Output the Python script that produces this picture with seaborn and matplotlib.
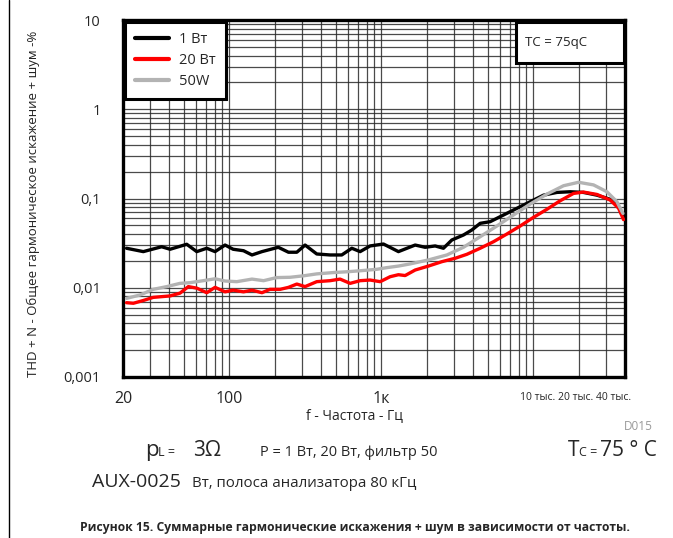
import numpy as np
import pandas as pd
import matplotlib
matplotlib.use("Agg")
import matplotlib.pyplot as plt
import matplotlib.ticker as mticker
from matplotlib.patches import Rectangle
import seaborn as sns

# ---------------- data ----------------
f_1w = [21.1, 27.2, 35.9, 40.8, 52.5, 61.1, 71.1, 80.6, 93.8, 106, 124, 141, 164, 210,
        245, 278, 315, 376, 460, 549, 639, 725, 843, 1032, 1172, 1295, 1668, 1940, 2258,
        2560, 2908, 3466, 3938, 4464, 5194, 6354, 7782, 9522, 11648, 14270, 17456, 21340,
        26160, 31980, 36280, 39120]
thd_1w = [0.0277, 0.0254, 0.0288, 0.0270, 0.0307, 0.0254, 0.0277, 0.0254, 0.0301, 0.0270,
          0.0260, 0.0233, 0.0254, 0.0284, 0.0250, 0.0250, 0.0301, 0.0239, 0.0233, 0.0233,
          0.0277, 0.0254, 0.0294, 0.0309, 0.0277, 0.0254, 0.0301, 0.0284, 0.0294, 0.0277,
          0.0343, 0.0390, 0.0444, 0.0527, 0.0550, 0.0653, 0.0776, 0.0920, 0.109, 0.117,
          0.119, 0.117, 0.109, 0.098, 0.081, 0.063]

f_20w = [21.1, 23.4, 27.2, 31.6, 40.8, 47.4, 53.8, 61.1, 71.1, 80.6, 93.8, 106, 124, 141,
         164, 185, 216, 245, 278, 315, 376, 460, 535, 623, 725, 843, 982, 1142, 1295, 1433,
         1668, 2040, 2500, 3058, 3650, 4464, 5462, 6688, 8182, 10010, 12264, 14998, 18350,
         21340, 26160, 31980, 36280, 39120]
thd_20w = [0.0068, 0.0067, 0.0072, 0.0078, 0.0081, 0.0087, 0.0103, 0.0099, 0.0088, 0.0101,
           0.0090, 0.0094, 0.0090, 0.0094, 0.0088, 0.0096, 0.0096, 0.0101, 0.0110, 0.0103,
           0.0117, 0.0120, 0.0125, 0.0112, 0.0120, 0.0122, 0.0117, 0.0133, 0.0140, 0.0137,
           0.0158, 0.0175, 0.0196, 0.0214, 0.0237, 0.0277, 0.0328, 0.0400, 0.0492, 0.0615,
           0.0757, 0.0944, 0.114, 0.118, 0.111, 0.096, 0.078, 0.058]

f_50w = [21.1, 25.9, 31.6, 38.8, 47.4, 55.2, 67.5, 80.6, 93.8, 112, 141, 168, 205, 251,
         307, 376, 484, 593, 725, 934, 1086, 1295, 1546, 2040, 2696, 3466, 4464, 5750,
         7392, 9522, 12264, 15768, 19790, 24840, 30420, 35400, 38780]
thd_50w = [0.0076, 0.0083, 0.0096, 0.0103, 0.0112, 0.0114, 0.0120, 0.0126, 0.0119, 0.0117,
           0.0125, 0.0120, 0.0130, 0.0131, 0.0136, 0.0143, 0.0148, 0.0151, 0.0155, 0.0161,
           0.0168, 0.0175, 0.0185, 0.0205, 0.0233, 0.0284, 0.0373, 0.0492, 0.0653, 0.0867,
           0.112, 0.139, 0.152, 0.142, 0.119, 0.092, 0.068]

series_labels = ["1 Вт", "20 Вт", "50W"]
series_colors = ["#000000", "#ff0000", "#b3b3b3"]

x_ticks = [20, 100, 1000]
x_tick_labels = ["20", "100", "1к"]
y_ticks = [0.001, 0.01, 0.1, 1, 10]
y_tick_labels = ["0,001", "0,01", "0,1", "1", "10"]

# ---------------- figure ----------------
sns.set_style("white")
plt.rcParams["font.family"] = ["Open Sans", "DejaVu Sans"]

W, H = 673, 538
fig = plt.figure(figsize=(W / 100, H / 100), dpi=100)
ax = fig.add_axes([123 / W, 1 - 377 / H, (625 - 123) / W, (377 - 20) / H])

frames = []
for f, t, lab in zip([f_1w, f_20w, f_50w], [thd_1w, thd_20w, thd_50w], series_labels):
    frames.append(pd.DataFrame({"freq": f, "thd": t, "series": lab}))
df = pd.concat(frames, ignore_index=True)

for lab, col in zip(series_labels, series_colors):
    sub = df[df["series"] == lab]
    sns.lineplot(data=sub, x="freq", y="thd", color=col, lw=2.4, ax=ax,
                 sort=False, estimator=None, label=lab, zorder=4)

ax.set_xscale("log")
ax.set_yscale("log")
ax.set_xlim(20, 40000)
ax.set_ylim(0.001, 10)

ax.xaxis.set_major_locator(mticker.FixedLocator(x_ticks))
ax.xaxis.set_major_formatter(mticker.FixedFormatter(x_tick_labels))
ax.yaxis.set_major_locator(mticker.FixedLocator(y_ticks))
ax.yaxis.set_major_formatter(mticker.FixedFormatter(y_tick_labels))
ax.xaxis.set_minor_locator(mticker.LogLocator(base=10, subs=np.arange(1, 10), numticks=50))
ax.yaxis.set_minor_locator(mticker.LogLocator(base=10, subs=np.arange(1, 10), numticks=50))
ax.xaxis.set_minor_formatter(mticker.NullFormatter())
ax.yaxis.set_minor_formatter(mticker.NullFormatter())

ax.grid(True, which="both", color="#2a2a2a", lw=0.9, alpha=0.85)
ax.set_axisbelow(True)
ax.tick_params(which="both", length=0)
ax.tick_params(axis="x", labelsize=11.5, pad=10)
ax.tick_params(axis="y", labelsize=10.5, pad=16)
for s in ax.spines.values():
    s.set_visible(True)
    s.set_color("black")
    s.set_linewidth(2.4)
ax.set_xlabel("")
ax.set_ylabel("")

leg = ax.legend(loc="upper left", bbox_to_anchor=(0.004, 0.995), fontsize=10.5,
                handlelength=2.3, handletextpad=0.7, borderpad=0.7,
                labelspacing=0.4, frameon=True, fancybox=False, framealpha=1,
                borderaxespad=0)
leg.get_frame().set_edgecolor("black")
leg.get_frame().set_linewidth(2.2)
leg.set_zorder(10)
for ln in leg.get_lines():
    ln.set_linewidth(3)

# TC box
ax.add_patch(Rectangle((0.783, 0.8796), 0.215, 0.1144, transform=ax.transAxes,
                       facecolor="white", edgecolor="black", lw=2.2, zorder=9))
ax.text(0.8, 0.938, "TC = 75qC", transform=ax.transAxes, fontsize=9.5,
        va="center", ha="left", zorder=11, color="#222")

def ft(x, y, s, **kw):
    fig.text(x / W, 1 - y / H, s, **kw)

ft(33, 204, "THD + N - Общее гармоническое искажение + шум -%", rotation=90,
   ha="center", va="center", fontsize=9.5, color="#222")
ft(354, 416, "f - Частота - Гц", ha="center", va="center", fontsize=10)
ft(520, 398, "10 тыс. 20 тыс. 40 тыс.", ha="left", va="center", fontsize=7.5)
ft(653, 427, "D015", ha="right", va="center", fontsize=8.5, color="#999999")

ft(145, 456, "p", ha="left", va="baseline", fontsize=16)
ft(158, 456, "L =", ha="left", va="baseline", fontsize=9)
ft(193, 456, "3Ω", ha="left", va="baseline", fontsize=15)
ft(260, 456, "P = 1 Вт, 20 Вт, фильтр 50", ha="left", va="baseline", fontsize=10.5)
ft(568, 456, "T", ha="left", va="baseline", fontsize=15)
ft(579, 456, "C =", ha="left", va="baseline", fontsize=9)
ft(600, 456, "75 ° C", ha="left", va="baseline", fontsize=15)
ft(92, 487, "AUX-0025", ha="left", va="baseline", fontsize=14)
ft(192, 487, "Вт, полоса анализатора 80 кГц", ha="left", va="baseline", fontsize=10.8)
ft(355, 528, "Рисунок 15. Суммарные гармонические искажения + шум в зависимости от частоты.",
   ha="center", va="center", fontsize=8.7, fontweight="bold")

fig.add_artist(plt.Line2D([8.5 / W, 8.5 / W], [0, 1], transform=fig.transFigure,
                          color="black", lw=1))

fig.savefig("out.png", dpi=100)
